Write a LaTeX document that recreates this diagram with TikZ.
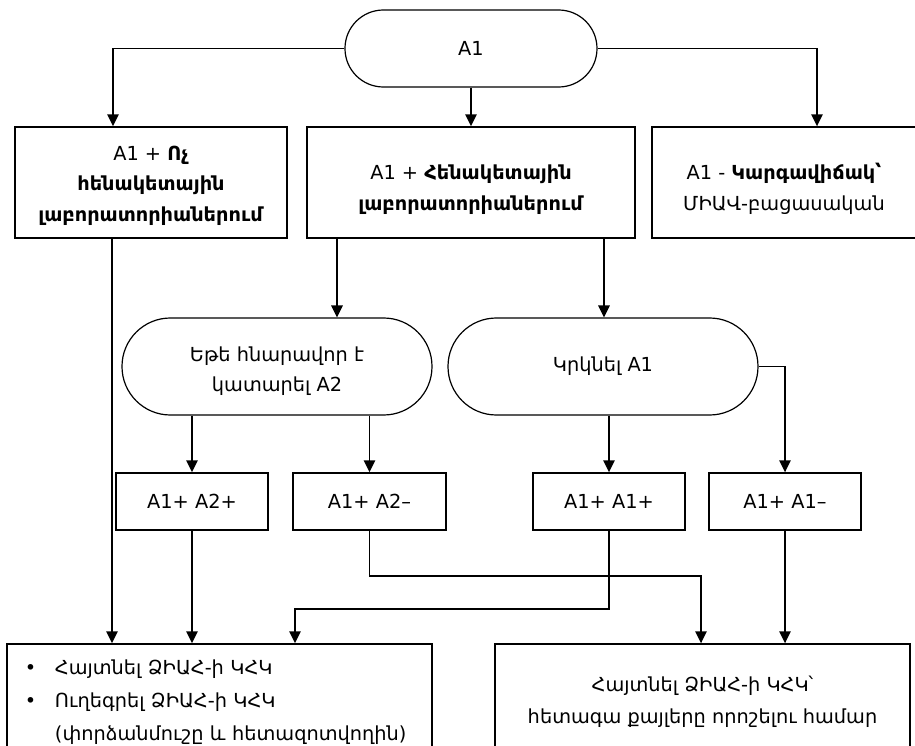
\documentclass[tikz,border=0pt]{standalone}
\usepackage{fontspec}
\setmainfont{DejaVu Sans}
\usetikzlibrary{arrows.meta,calc}
\newcommand{\lowerby}[1]{\rule{0pt}{#1}}
\begin{document}
\begin{tikzpicture}[x=0.75pt,y=-0.75pt,
  font=\fontsize{14.5}{23}\selectfont,
  box/.style={draw,line width=1pt,inner sep=0pt,align=center},
  pill/.style={box,line width=0.9pt,rounded corners=#1},
  conn/.style={line width=1.4pt,-{Triangle[width=8.5pt,length=9pt]}}]
\useasboundingbox (0,0) rectangle (915,746);
% top
\node[pill=28.8pt,minimum width=189pt,minimum height=57.75pt] (top) at (471,48.5) {A1};
% row 2
\node[box,minimum width=204pt,minimum height=83.25pt] (b1) at (151,182.5)
  {\lowerby{15.5pt}A1 + \textbf{Ոչ}\\\textbf{հենակետային}\\\textbf{լաբորատորիաներում}};
\node[box,minimum width=246pt,minimum height=83.25pt] (b2) at (471,182.5)
  {\lowerby{22pt}A1 + \textbf{Հենակետային}\\\textbf{լաբորատորիաներում}};
\node[box,minimum width=198pt,minimum height=83.25pt] (b3) at (784,182.5)
  {\lowerby{22pt}A1 - \textbf{Կարգավիճակ՝}\\ՄԻԱՎ-բացասական};
% ovals
\node[pill=36.3pt,minimum width=232.5pt,minimum height=72.75pt] (oL) at (277,366.5)
  {\lowerby{18pt}Եթե հնարավոր է\\կատարել A2};
\node[pill=36.3pt,minimum width=232.5pt,minimum height=72.75pt] (oR) at (603,366.5)
  {Կրկնել A1};
% row 3
\node[box,minimum width=114pt,minimum height=42.75pt] (A) at (192,501.5) {A1+ A2+};
\node[box,minimum width=114.75pt,minimum height=42.75pt] (B) at (369.5,501.5) {A1+ A2–};
\node[box,minimum width=114pt,minimum height=42.75pt] (C) at (609,501.5) {A1+ A1+};
\node[box,minimum width=114pt,minimum height=42.75pt] (D) at (785,501.5) {A1+ A1–};
% bottom
\node[box,minimum width=318.75pt,minimum height=87pt,text width=291.75pt,inner xsep=13.5pt,align=left,
  font=\fontsize{14.5}{24.5}\selectfont] (bL) at (219.5,702)
  {\makebox[22.5pt][l]{•}Հայտնել ՁԻԱՀ-ի ԿՀԿ\\
   \makebox[22.5pt][l]{•}Ուղեգրել ՁԻԱՀ-ի ԿՀԿ\\
   \hspace*{22.5pt}(փորձանմուշը և հետազոտվողին)};
\node[box,minimum width=311.25pt,minimum height=87pt,font=\fontsize{14.5}{24}\selectfont] (bR) at (702.5,702)
  {Հայտնել ՁԻԱՀ-ի ԿՀԿ՝\\հետագա քայլերը որոշելու համար};
% helper coordinates
\coordinate (xL) at (113,0);
\coordinate (xR) at (817,0);
\coordinate (x337) at (337,0);
\coordinate (x604) at (604,0);
\coordinate (x112) at (112,0);
\coordinate (k1) at (701,576);
\coordinate (k2) at (295,609);
% connectors
\draw[conn] (top.west) -| (xL |- b1.north);
\draw[conn] (top.east) -| (xR |- b3.north);
\draw[conn] (top.south) -- (b2.north);
\draw[conn] (b2.south -| x337) -- (oL.north -| x337);
\draw[conn] (b2.south -| x604) -- (oR.north -| x604);
\draw[conn] (b1.south -| x112) -- (bL.north -| x112);
\draw[conn] (oL.south -| A.north) -- (A.north);
\draw[conn] (oL.south -| B.north) -- (B.north);
\draw[conn] (oR.south -| C.north) -- (C.north);
\draw[conn] (oR.east) -| (D.north);
\draw[conn] (A.south) -- (A.south |- bL.north);
\draw[conn] (B.south) |- (k1) -- (k1 |- bR.north);
\draw[conn] (C.south) |- (k2) -- (k2 |- bL.north);
\draw[conn] (D.south) -- (D.south |- bR.north);
\end{tikzpicture}
\end{document}
